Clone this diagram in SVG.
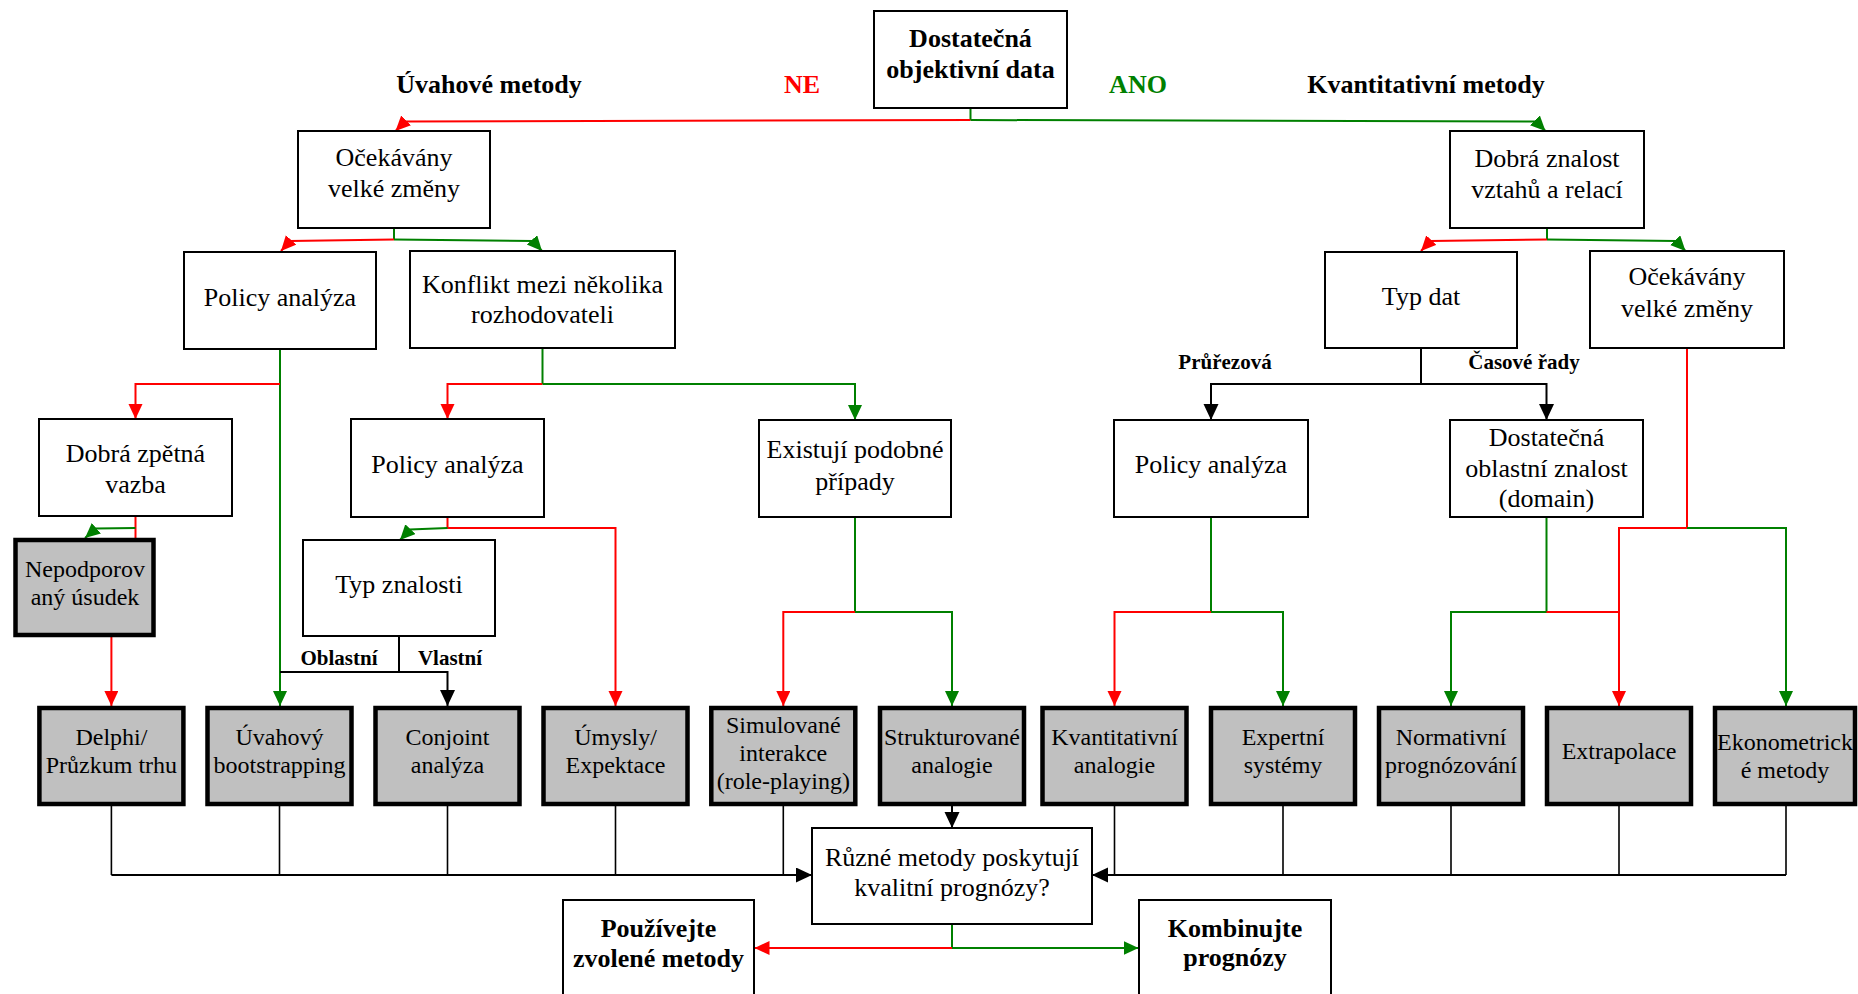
<svg xmlns="http://www.w3.org/2000/svg" width="1858" height="994" viewBox="0 0 1858 994">
  <style>
    .box { fill: #fff; stroke: #000; stroke-width: 2; }
    .gbox { fill: #c0c0c0; stroke: #000; stroke-width: 4.5; }
    text { font-family: "Liberation Serif", "Times New Roman", serif; text-anchor: middle; fill: #000; }
    .t { font-size: 26px; }
    .ts { font-size: 24px; }
    .b { font-weight: bold; }
    .lbl { font-size: 21px; font-weight: bold; }
    .r { fill: none; stroke: #ff0000; stroke-width: 2; }
    .g { fill: none; stroke: #008000; stroke-width: 2; }
    .k { fill: none; stroke: #000; stroke-width: 2; }
    .kt { fill: none; stroke: #000; stroke-width: 1.6; }
    .ar { marker-end: url(#ar); }
    .ag { marker-end: url(#ag); }
    .ak { marker-end: url(#ak); }
  </style>
  <defs>
    <marker id="ar" markerUnits="userSpaceOnUse" markerWidth="16" markerHeight="16" refX="15" refY="7" orient="auto">
      <path d="M0,0 L15,7 L0,14 z" fill="#ff0000"/>
    </marker>
    <marker id="ag" markerUnits="userSpaceOnUse" markerWidth="16" markerHeight="16" refX="15" refY="7" orient="auto">
      <path d="M0,0 L15,7 L0,14 z" fill="#008000"/>
    </marker>
    <marker id="ak" markerUnits="userSpaceOnUse" markerWidth="17" markerHeight="17" refX="16" refY="7.5" orient="auto">
      <path d="M0,0 L16,7.5 L0,15 z" fill="#000"/>
    </marker>
  </defs>

  <!-- branch labels -->
  <g id="labels">
    <text class="t b" x="489" y="93">Úvahové metody</text>
    <text class="t b" x="802" y="93" style="fill:#ff0000">NE</text>
    <text class="t b" x="1138" y="93" style="fill:#008000">ANO</text>
    <text class="t b" x="1426" y="93">Kvantitativní metody</text>
    <text class="lbl" x="339" y="665">Oblastní</text>
    <text class="lbl" x="450" y="665">Vlastní</text>
    <text class="lbl" x="1225" y="369">Průřezová</text>
    <text class="lbl" x="1524" y="369">Časové řady</text>
  </g>

  <!-- connectors -->
  <g id="connectors">
    <!-- root split -->
    <path class="g" d="M970.5,108 V120"/>
    <path class="r ar" d="M970.5,120 L405,121.5 L395.5,131"/>
    <path class="g ag" d="M970.5,120 L1536,121.5 L1545.5,131"/>
    <!-- judgmental side -->
    <path class="g" d="M394,228 V239.5"/>
    <path class="r ar" d="M394,239.5 L290,241 L281,251"/>
    <path class="g ag" d="M394,239.5 L533,241 L542,251"/>
    <path class="g ag" d="M280,349 V706"/>
    <path class="r ar" d="M280,384 H135.5 V419"/>
    <path class="g" d="M542.5,348 V384"/>
    <path class="r ar" d="M542.5,384 H447.5 V419"/>
    <path class="g ag" d="M542.5,384 H855 V420"/>
    <path class="r" d="M135.5,516 V538"/>
    <path class="g ag" d="M135.5,528 L96,528.5 L85,538"/>
    <path class="r ar" d="M111.4,637 V706"/>
    <path class="r ar" d="M447.5,517 V528 H615.5 V706"/>
    <path class="g ag" d="M447.5,528 L410,529.5 L400,540"/>
    <path class="k" d="M399,636 V672"/>
    <path class="k ak" d="M280,672 H447.5 V706"/>
    <path class="g ag" d="M855,517 V612 H952 V706"/>
    <path class="r ar" d="M855,612 H783.3 V706"/>
    <!-- quantitative side -->
    <path class="g" d="M1547,228 V239.5"/>
    <path class="r ar" d="M1547,239.5 L1430.5,241 L1421,251"/>
    <path class="g ag" d="M1547,239.5 L1676,241 L1685.5,251"/>
    <path class="k" d="M1421,348 V384"/>
    <path class="k ak" d="M1421,384 H1211 V420"/>
    <path class="k ak" d="M1421,384 H1546.5 V420"/>
    <path class="g ag" d="M1211,517 V612 H1283 V706"/>
    <path class="r ar" d="M1211,612 H1114.5 V706"/>
    <path class="g ag" d="M1546.5,517 V612 H1451 V706"/>
    <path class="r" d="M1546.5,612 H1619"/>
    <path class="r ar" d="M1687,348 V528 H1619 V706"/>
    <path class="g ag" d="M1687,528 H1786 V706"/>
    <!-- methods into evaluation -->
    <path class="k ak" d="M952,806 V828"/>
    <path class="kt" d="M111.4,806 V875 M279.5,806 V875 M447.5,806 V875 M615.5,806 V875 M783.3,806 V875"/>
    <path class="k ak" d="M111.4,875 H812"/>
    <path class="kt" d="M1114.5,806 V875 M1283,806 V875 M1451,806 V875 M1619,806 V875 M1786,806 V875"/>
    <path class="k ak" d="M1786,875 H1092"/>
    <!-- evaluation outcome -->
    <path class="g" d="M952,924 V948"/>
    <path class="r ar" d="M952,948 H754.5"/>
    <path class="g ag" d="M952,948 H1138.5"/>
  </g>

  <!-- decision nodes -->
  <g id="root">
    <rect class="box" x="874" y="11" width="193" height="97"/>
    <text class="t b" x="970.5" y="47">Dostatečná</text>
    <text class="t b" x="970.5" y="78">objektivní data</text>
  </g>
  <g id="ocekavany-l">
    <rect class="box" x="298" y="131" width="192" height="97"/>
    <text class="t" x="394" y="166">Očekávány</text>
    <text class="t" x="394" y="197">velké změny</text>
  </g>
  <g id="policy-1">
    <rect class="box" x="184" y="252" width="192" height="97"/>
    <text class="t" x="280" y="306">Policy analýza</text>
  </g>
  <g id="konflikt">
    <rect class="box" x="410" y="251" width="265" height="97"/>
    <text class="t" x="542.5" y="293">Konflikt mezi několika</text>
    <text class="t" x="542.5" y="323">rozhodovateli</text>
  </g>
  <g id="zpetna-vazba">
    <rect class="box" x="39" y="419" width="193" height="97"/>
    <text class="t" x="135.5" y="462">Dobrá zpětná</text>
    <text class="t" x="135.5" y="493">vazba</text>
  </g>
  <g id="policy-2">
    <rect class="box" x="351" y="419" width="193" height="98"/>
    <text class="t" x="447.5" y="473">Policy analýza</text>
  </g>
  <g id="podobne-pripady">
    <rect class="box" x="759" y="420" width="192" height="97"/>
    <text class="t" x="855" y="458">Existují podobné</text>
    <text class="t" x="855" y="490">případy</text>
  </g>
  <g id="typ-znalosti">
    <rect class="box" x="303" y="540" width="192" height="96"/>
    <text class="t" x="399" y="593">Typ znalosti</text>
  </g>
  <g id="znalost-vztahu">
    <rect class="box" x="1450" y="131" width="194" height="97"/>
    <text class="t" x="1547" y="167">Dobrá znalost</text>
    <text class="t" x="1547" y="198">vztahů a relací</text>
  </g>
  <g id="typ-dat">
    <rect class="box" x="1325" y="252" width="192" height="96"/>
    <text class="t" x="1421" y="305">Typ dat</text>
  </g>
  <g id="ocekavany-r">
    <rect class="box" x="1590" y="251" width="194" height="97"/>
    <text class="t" x="1687" y="285">Očekávány</text>
    <text class="t" x="1687" y="317">velké změny</text>
  </g>
  <g id="policy-3">
    <rect class="box" x="1114" y="420" width="194" height="97"/>
    <text class="t" x="1211" y="473">Policy analýza</text>
  </g>
  <g id="domain">
    <rect class="box" x="1450" y="420" width="193" height="97"/>
    <text class="t" x="1546.5" y="446">Dostatečná</text>
    <text class="t" x="1546.5" y="477">oblastní znalost</text>
    <text class="t" x="1546.5" y="507">(domain)</text>
  </g>

  <!-- method nodes -->
  <g id="nepodporovany">
    <rect class="gbox" x="15.5" y="540" width="138" height="95"/>
    <text class="ts" x="85" y="577">Nepodporov</text>
    <text class="ts" x="85" y="605">aný úsudek</text>
  </g>
  <g id="delphi">
    <rect class="gbox" x="39.4" y="708" width="144" height="96"/>
    <text class="ts" x="111.4" y="745">Delphi/</text>
    <text class="ts" x="111.4" y="773">Průzkum trhu</text>
  </g>
  <g id="bootstrapping">
    <rect class="gbox" x="207.5" y="708" width="144" height="96"/>
    <text class="ts" x="279.5" y="745">Úvahový</text>
    <text class="ts" x="279.5" y="773">bootstrapping</text>
  </g>
  <g id="conjoint">
    <rect class="gbox" x="375.5" y="708" width="144" height="96"/>
    <text class="ts" x="447.5" y="745">Conjoint</text>
    <text class="ts" x="447.5" y="773">analýza</text>
  </g>
  <g id="umysly">
    <rect class="gbox" x="543.5" y="708" width="144" height="96"/>
    <text class="ts" x="615.5" y="745">Úmysly/</text>
    <text class="ts" x="615.5" y="773">Expektace</text>
  </g>
  <g id="role-playing">
    <rect class="gbox" x="711.3" y="708" width="144" height="96"/>
    <text class="ts" x="783.3" y="733">Simulované</text>
    <text class="ts" x="783.3" y="761">interakce</text>
    <text class="ts" x="783.3" y="789">(role-playing)</text>
  </g>
  <g id="strukturovane">
    <rect class="gbox" x="880" y="708" width="144" height="96"/>
    <text class="ts" x="952" y="745">Strukturované</text>
    <text class="ts" x="952" y="773">analogie</text>
  </g>
  <g id="kvant-analogie">
    <rect class="gbox" x="1042.5" y="708" width="144" height="96"/>
    <text class="ts" x="1114.5" y="745">Kvantitativní</text>
    <text class="ts" x="1114.5" y="773">analogie</text>
  </g>
  <g id="expertni">
    <rect class="gbox" x="1211" y="708" width="144" height="96"/>
    <text class="ts" x="1283" y="745">Expertní</text>
    <text class="ts" x="1283" y="773">systémy</text>
  </g>
  <g id="normativni">
    <rect class="gbox" x="1379" y="708" width="144" height="96"/>
    <text class="ts" x="1451" y="745">Normativní</text>
    <text class="ts" x="1451" y="773">prognózování</text>
  </g>
  <g id="extrapolace">
    <rect class="gbox" x="1547" y="708" width="144" height="96"/>
    <text class="ts" x="1619" y="759">Extrapolace</text>
  </g>
  <g id="ekonometricke">
    <rect class="gbox" x="1715" y="708" width="140" height="96"/>
    <text class="ts" x="1785" y="750">Ekonometrick</text>
    <text class="ts" x="1785" y="778">é metody</text>
  </g>

  <!-- evaluation and outcomes -->
  <g id="ruzne-metody">
    <rect class="box" x="812" y="828" width="280" height="96"/>
    <text class="t" x="952" y="866">Různé metody poskytují</text>
    <text class="t" x="952" y="896">kvalitní prognózy?</text>
  </g>
  <g id="pouzivejte">
    <rect class="box" x="563" y="900" width="191" height="110"/>
    <text class="t b" x="658.5" y="937">Používejte</text>
    <text class="t b" x="658.5" y="967">zvolené metody</text>
  </g>
  <g id="kombinujte">
    <rect class="box" x="1139" y="900" width="192" height="110"/>
    <text class="t b" x="1235" y="937">Kombinujte</text>
    <text class="t b" x="1235" y="966">prognózy</text>
  </g>
</svg>
